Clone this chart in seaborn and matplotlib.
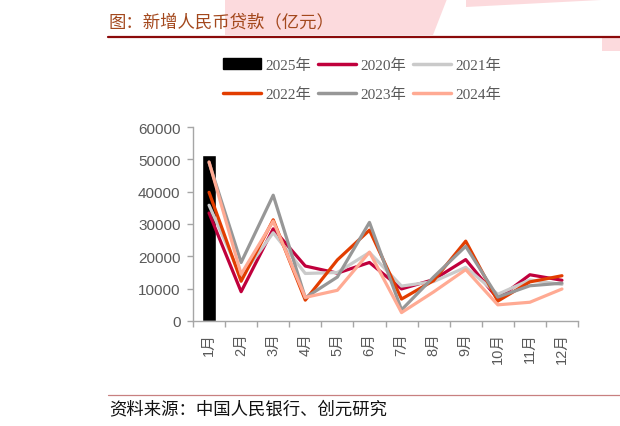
import numpy as np
import pandas as pd
import matplotlib
matplotlib.use("Agg")
import matplotlib.pyplot as plt
import seaborn as sns
from matplotlib.lines import Line2D
from matplotlib.patches import Patch, Polygon

# ---------------- data (亿元) ----------------
months = ["1月", "2月", "3月", "4月", "5月", "6月", "7月", "8月", "9月", "10月", "11月", "12月"]
years = ["2020年", "2021年", "2022年", "2023年", "2024年"]
y2020 = [33400, 9057, 28500, 17000, 14800, 18100, 9927, 12800, 19000, 6898, 14300, 12600]
y2021 = [35800, 13600, 27300, 14700, 15000, 21200, 10800, 12200, 16600, 8262, 12700, 11300]
y2022 = [39800, 12300, 31300, 6454, 18900, 28100, 6790, 12500, 24700, 6152, 12100, 14000]
y2023 = [49000, 18100, 38900, 7188, 13600, 30500, 3459, 13600, 23100, 7384, 10900, 11700]
y2024 = [49200, 14500, 30900, 7300, 9500, 21300, 2600, 9000, 15900, 5000, 5800, 9900]
months2025 = ["1月"]
y2025 = [51300]

colors = {"2020年": "#C0003C", "2021年": "#CACACA", "2022年": "#E23D00",
          "2023年": "#979797", "2024年": "#FFAA93"}

series = [y2020, y2021, y2022, y2023, y2024]
rows = []
for yr, vals in zip(years, series):
    for i, v in enumerate(vals):
        rows.append({"idx": i, "value": v, "year": yr})
df = pd.DataFrame(rows)
bar_df = pd.DataFrame({"month": months2025, "value": y2025})

# ---------------- figure ----------------
sns.set_theme(style="white")
plt.rcParams["font.family"] = ["Liberation Sans", "Noto Sans CJK SC", "DejaVu Sans"]

W, H = 620, 427
fig = plt.figure(figsize=(W / 100, H / 100), dpi=100)


def fx(x):
    return x / W


def fy(y):
    return 1 - y / H


# decorative pink background shapes
pink = "#FCDADD"
for pts in ([(225, 0), (447, 0), (433, 36), (225, 36)],
            [(466, 0), (620, 0), (466, 8)],
            [(602, 37), (620, 37), (620, 52), (602, 52)]):
    fig.add_artist(Polygon([(fx(a), fy(b)) for a, b in pts], closed=True,
                           transform=fig.transFigure, facecolor=pink,
                           edgecolor="none", zorder=0))

ax = fig.add_axes([fx(193), fy(322), fx(578) - fx(193), fy(128) - fy(322)])
ax.set_facecolor("none")

sns.barplot(data=bar_df, x="month", y="value", order=months, color="black",
            saturation=1, width=0.42, ax=ax)
sns.lineplot(data=df, x="idx", y="value", hue="year", hue_order=years,
             palette=colors, linewidth=2.3, ax=ax, legend=False, sort=False)

ax.set_xlim(-0.5, 11.5)
ax.set_ylim(0, 60000)
ax.set_yticks(np.arange(0, 60001, 10000))
ax.set_yticklabels([str(v) for v in range(0, 60001, 10000)])
ax.set_xticks(range(12))
ax.set_xticklabels(months, rotation=90, va="top", ha="center")
ax.set_xticks(np.arange(-0.5, 12, 1), minor=True)
ax.set_xlabel("")
ax.set_ylabel("")

spine_c = "#A6A6A6"
for s in ["top", "right"]:
    ax.spines[s].set_visible(False)
for s in ["left", "bottom"]:
    ax.spines[s].set_color(spine_c)
    ax.spines[s].set_linewidth(1.0)

ax.tick_params(axis="y", which="major", direction="out", length=4, width=1,
               color=spine_c, labelcolor="#595959", labelsize=11, pad=5, left=True)
ax.tick_params(axis="x", which="major", length=0, labelcolor="#595959",
               labelsize=10.5, pad=8, bottom=True)
ax.tick_params(axis="x", which="minor", direction="out", length=4, width=1,
               color=spine_c, bottom=True)

# legend
handles = [Patch(facecolor="black", edgecolor="black", label="2025年")]
for yr in years:
    handles.append(Line2D([0], [0], color=colors[yr], lw=2.5, label=yr))
# ncol=3 fills by column: reorder so rows read 2025,2020,2021 / 2022,2023,2024
order = [0, 3, 1, 4, 2, 5]
handles = [handles[i] for i in order]
fig.legend(handles=handles, loc="center", bbox_to_anchor=(fx(362), fy(80.5)),
           ncol=3, frameon=False, handlelength=2.5, handletextpad=0.28,
           columnspacing=0.45, labelspacing=1.0,
           prop={"family": ["Liberation Serif", "Noto Sans CJK SC"], "size": 11},
           labelcolor="#595959")

# title and lines
fig.text(fx(108), fy(22), "图：新增人民币贷款（亿元）", ha="left", va="center",
         fontsize=12.5, color="#A3481D", family=["Noto Sans CJK SC"])
fig.add_artist(Line2D([fx(107.5), 1], [fy(37.5), fy(37.5)], color="#8B0A0A",
                      lw=1.6, transform=fig.transFigure))
fig.add_artist(Line2D([fx(107.5), 1], [fy(396), fy(396)], color="#C88080",
                      lw=0.9, transform=fig.transFigure))
fig.text(fx(109), fy(409), "资料来源：中国人民银行、创元研究", ha="left", va="center",
         fontsize=12.5, color="#111111", family=["Noto Sans CJK SC"])

fig.savefig("out.png", dpi=100)
